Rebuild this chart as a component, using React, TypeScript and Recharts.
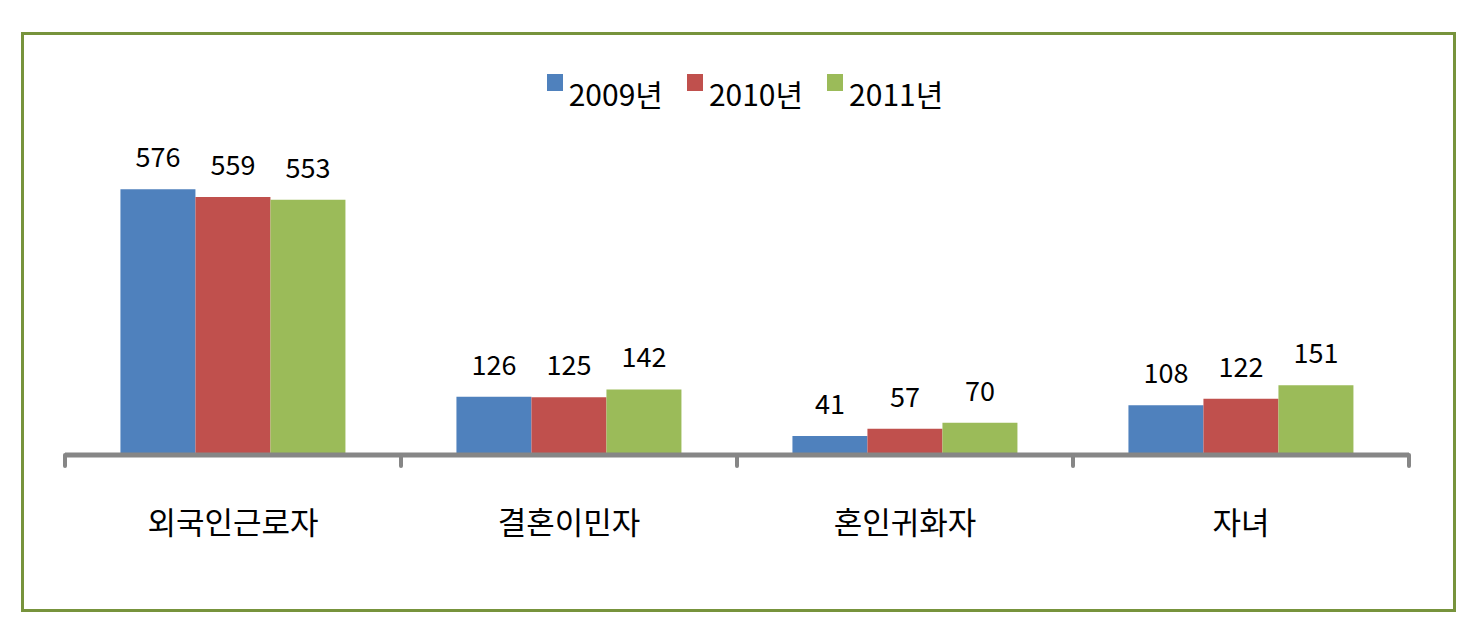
import React from "react";
import { BarChart, Bar, XAxis, YAxis, Legend, LabelList } from "recharts";

const categories = ["외국인근로자", "결혼이민자", "혼인귀화자", "자녀"];
const seriesNames = ["2009년", "2010년", "2011년"];
const values2009 = [576, 126, 41, 108];
const values2010 = [559, 125, 57, 122];
const values2011 = [553, 142, 70, 151];

const colors = ["#4F81BD", "#C0504D", "#9BBB59"];
const font = '"Noto Sans CJK KR", "Noto Sans", sans-serif';
const axisGray = "#868686";

const data = categories.map((name, i) => ({
  name,
  y2009: values2009[i],
  y2010: values2010[i],
  y2011: values2011[i],
}));

const renderLegend = () => (
  <div
    style={{
      display: "flex",
      justifyContent: "center",
      alignItems: "flex-start",
      height: 40,
      fontFamily: font,
      fontSize: 30,
      lineHeight: "40px",
      color: "#000",
      paddingLeft: 10,
    }}
  >
    {seriesNames.map((s, i) => (
      <div
        key={s}
        style={{ display: "flex", alignItems: "flex-start", marginLeft: i ? 24 : 0 }}
      >
        <div style={{ width: 16, height: 17, background: colors[i], marginRight: 6, marginTop: 1 }} />
        <span>{s}</span>
      </div>
    ))}
  </div>
);

const CategoryTick = (props: any) => {
  const { x, y, payload, index, width, visibleTicksCount } = props;
  const band = width / visibleTicksCount;
  const left = x - band / 2;
  const right = x + band / 2;
  return (
    <g>
      <line x1={left} y1={y} x2={left} y2={y + 11} stroke={axisGray} strokeWidth={4} strokeLinecap="round" />
      {index === visibleTicksCount - 1 && (
        <line x1={right} y1={y} x2={right} y2={y + 11} stroke={axisGray} strokeWidth={4} strokeLinecap="round" />
      )}
      <text x={x} y={y + 79} textAnchor="middle" fontSize={31} fontFamily={font} fill="#000">
        {payload.value}
      </text>
    </g>
  );
};

const App = () => {
  return (
    <div style={{ position: "absolute", left: 0, top: 0, width: 1480, height: 637, background: "#fff" }}>
      <div
        style={{
          position: "absolute",
          left: 21,
          top: 32,
          width: 1435,
          height: 580,
          border: "3px solid #77933C",
          boxSizing: "border-box",
        }}
      />
      <div style={{ position: "absolute", left: 0, top: 0 }}>
        <BarChart
          width={1480}
          height={637}
          data={data}
          margin={{ top: 92, right: 71, left: 65, bottom: 82 }}
          barCategoryGap="16.5%"
          barGap={0}
        >
          <Legend
            verticalAlign="top"
            content={renderLegend}
            wrapperStyle={{ top: 73, left: 0, width: 1480, height: 40 }}
          />
          <YAxis hide domain={[0, 700]} />
          <XAxis
            dataKey="name"
            height={100}
            axisLine={{ stroke: axisGray, strokeWidth: 5 }}
            tickLine={false}
            tickSize={0}
            tickMargin={0}
            interval={0}
            tick={<CategoryTick />}
          />
          <Bar dataKey="y2009" name={seriesNames[0]} fill={colors[0]} isAnimationActive={false}>
            <LabelList dataKey="y2009" position="top" offset={22} fontSize={27} fontFamily={font} fill="#000" />
          </Bar>
          <Bar dataKey="y2010" name={seriesNames[1]} fill={colors[1]} isAnimationActive={false}>
            <LabelList dataKey="y2010" position="top" offset={22} fontSize={27} fontFamily={font} fill="#000" />
          </Bar>
          <Bar dataKey="y2011" name={seriesNames[2]} fill={colors[2]} isAnimationActive={false}>
            <LabelList dataKey="y2011" position="top" offset={22} fontSize={27} fontFamily={font} fill="#000" />
          </Bar>
        </BarChart>
      </div>
    </div>
  );
};

export default App;
